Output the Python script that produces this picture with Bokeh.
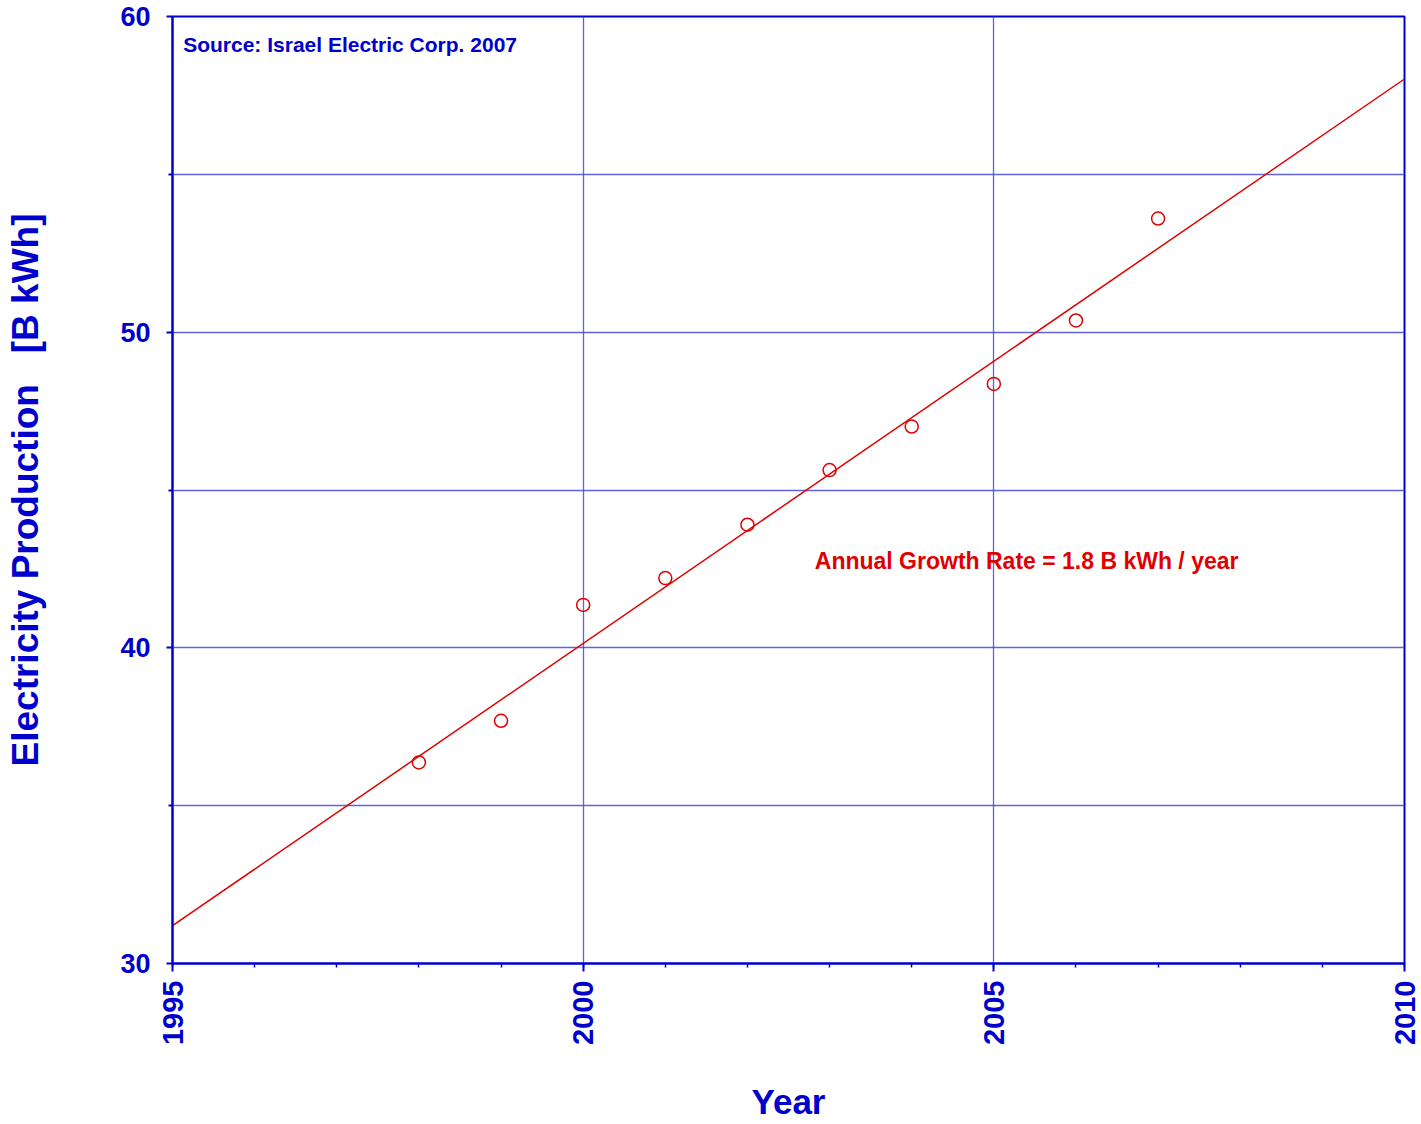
import math
from bokeh.plotting import figure
from bokeh.models import Range1d, FixedTicker, Label
from bokeh.embed import file_html
from bokeh.resources import INLINE

# ---- data ----
years = [1998, 1999, 2000, 2001, 2002, 2003, 2004, 2005, 2006, 2007]
production = [36.37, 37.69, 41.36, 42.21, 43.90, 45.63, 47.01, 48.36, 50.37, 53.60]
fit_years = [1995, 2010]
fit_values = [31.2, 58.02]
x_major = [1995, 2000, 2005, 2010]
x_minor = list(range(1995, 2011))
y_major = [30, 40, 50, 60]
y_minor = [35, 45, 55]
x_grid = [2000, 2005]
y_grid = [35, 40, 45, 50, 55]

BLUE = "#0000cc"
RED = "#e00000"
FONT = "Liberation Sans"
X0, X1 = 1995, 2010
Y0, Y1 = 30, 60

p = figure(width=1421, height=1124, output_backend="svg", toolbar_location=None,
           x_range=Range1d(X0, X1), y_range=Range1d(Y0, Y1),
           min_border_left=172, min_border_right=17, min_border_top=16, min_border_bottom=161)
p.background_fill_color = "white"
p.border_fill_color = "white"
p.outline_line_color = BLUE
p.outline_line_width = 2

# grids
p.xgrid.ticker = FixedTicker(ticks=x_grid)
p.ygrid.ticker = FixedTicker(ticks=y_grid)
for g in (p.xgrid, p.ygrid):
    g.grid_line_color = "#4646dc"
    g.grid_line_alpha = 0.85
    g.grid_line_width = 1.3

# x axis
xa = p.xaxis[0]
xa.ticker = FixedTicker(ticks=x_major, minor_ticks=x_minor)
xa.axis_line_color = BLUE
xa.axis_line_width = 2
xa.major_tick_line_color = BLUE
xa.major_tick_line_width = 2
xa.major_tick_out = 8
xa.major_tick_in = 0
xa.minor_tick_line_color = BLUE
xa.minor_tick_line_width = 1.5
xa.minor_tick_out = 4
xa.minor_tick_in = 0
xa.major_label_orientation = math.pi / 2
xa.major_label_standoff = 9
xa.major_label_text_font = FONT
xa.major_label_text_font_style = "bold"
xa.major_label_text_font_size = "29px"
xa.major_label_text_color = BLUE
xa.axis_label = "Year"
xa.axis_label_text_font = FONT
xa.axis_label_text_font_style = "bold"
xa.axis_label_text_font_size = "35px"
xa.axis_label_text_color = BLUE
xa.axis_label_standoff = 34

# y axis
ya = p.yaxis[0]
ya.ticker = FixedTicker(ticks=y_major, minor_ticks=y_minor)
ya.axis_line_color = BLUE
ya.axis_line_width = 2
ya.major_tick_line_color = BLUE
ya.major_tick_line_width = 2
ya.major_tick_out = 6
ya.major_tick_in = 0
ya.minor_tick_line_color = BLUE
ya.minor_tick_line_width = 2
ya.minor_tick_out = 4
ya.minor_tick_in = 0
ya.major_label_standoff = 16
ya.major_label_text_font = FONT
ya.major_label_text_font_style = "bold"
ya.major_label_text_font_size = "27px"
ya.major_label_text_color = BLUE
ya.axis_label = "Electricity Production\u00a0\u00a0 [B kWh]"
ya.axis_label_text_font = FONT
ya.axis_label_text_font_style = "bold"
ya.axis_label_text_font_size = "37px"
ya.axis_label_text_color = BLUE
ya.axis_label_standoff = 71

# fit line and points
p.line(fit_years, fit_values, line_color=RED, line_width=1.5)
p.scatter(years, production, marker="circle", size=13, fill_color=None,
          line_color=RED, line_width=1.5)

# annotations
p.add_layout(Label(x=1995.13, y=59.1, text="Source: Israel Electric Corp. 2007",
                   text_font=FONT, text_font_style="bold", text_font_size="21px",
                   text_color=BLUE, text_align="left", text_baseline="middle"))
p.add_layout(Label(x=2002.82, y=42.74, text="Annual Growth Rate = 1.8 B kWh / year",
                   text_font=FONT, text_font_style="bold", text_font_size="23px",
                   text_color=RED, text_align="left", text_baseline="middle"))

open("out.html", "w").write(file_html(p, INLINE))
